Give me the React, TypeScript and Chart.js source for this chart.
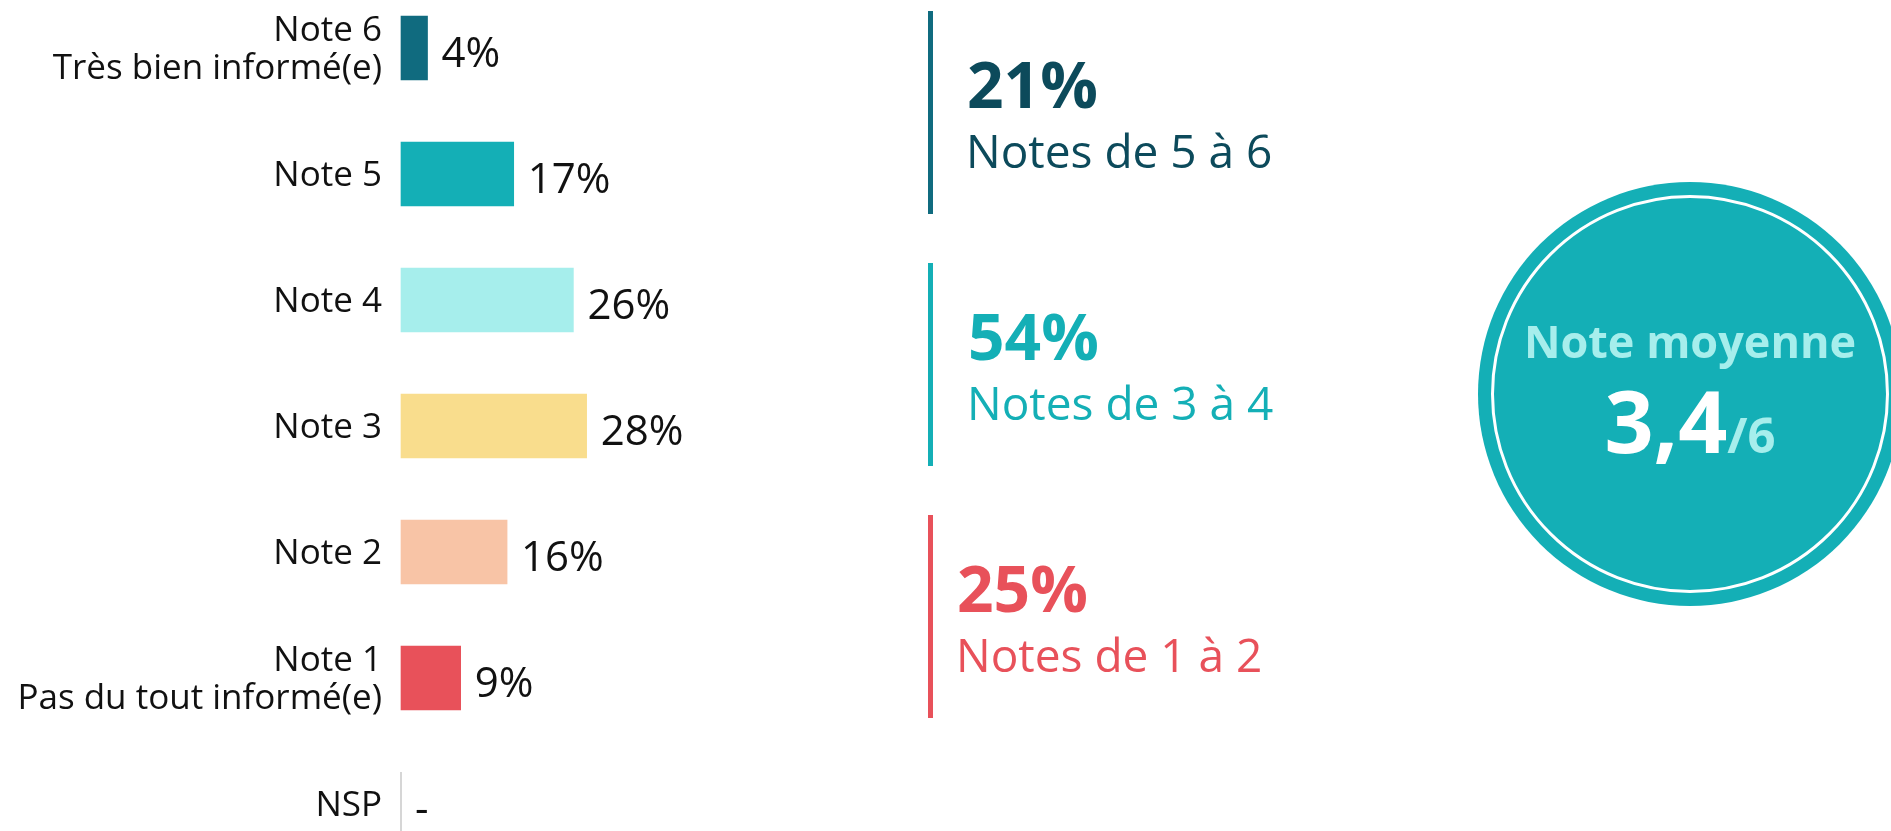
import React, { useEffect, useRef } from "react";
import { Chart, registerables } from "chart.js";

Chart.register(...registerables);

// ---------- data ----------
const categories: (string | string[])[] = [
  ["Note 6", "Très bien informé(e)"],
  "Note 5",
  "Note 4",
  "Note 3",
  "Note 2",
  ["Note 1", "Pas du tout informé(e)"],
  "NSP",
];
const values: (number | null)[] = [4, 17, 26, 28, 16, 9, null];
const barColors = ["#106b7f", "#14afb6", "#a6eeec", "#f9dd8d", "#f8c4a6", "#e8515a", "#c8c8c8"];

const groupValues = [21, 54, 25];
const groupLabels = ["Notes de 5 à 6", "Notes de 3 à 4", "Notes de 1 à 2"];
const groupFirst = [0, 2, 4];
const groupLast = [1, 3, 5];
const groupLineColors = ["#106b7f", "#14afb6", "#e8515a"];
const groupTextColors = ["#0c4a5b", "#14afb6", "#e8515a"];

const meanLabel = "Note moyenne";
const meanScore = 3.4;
const meanMax = 6;

// ---------- layout / style ----------
const W = 1891;
const H = 831;
const FONT = "'Open Sans', sans-serif";
const GROUP_LINE_X = 928;
const GROUP_TEXT_X = [967, 968, 957];
const CIRCLE = { x: 1690, y: 394, r: 212, ring: 197.5 };

export default function App() {
  const ref = useRef<HTMLCanvasElement>(null);

  useEffect(() => {
    let chart: Chart | null = null;
    let cancelled = false;

    const textPlugin = {
      id: "customText",
      afterDatasetsDraw(c: any) {
        const ctx: CanvasRenderingContext2D = c.ctx;
        const xs = c.scales.x;
        const ys = c.scales.y;
        const left = c.chartArea.left;
        ctx.save();

        // zero line for rows without a value (NSP)
        values.forEach((v, i) => {
          if (v != null) return;
          const cy = ys.getPixelForValue(i);
          const x0 = xs.getPixelForValue(0);
          ctx.strokeStyle = "#c8c8c8";
          ctx.lineWidth = 1.5;
          ctx.beginPath();
          ctx.moveTo(x0, cy - 32);
          ctx.lineTo(x0, cy + 32);
          ctx.stroke();
        });

        // category labels
        ctx.fillStyle = "#111111";
        ctx.font = `35px ${FONT}`;
        ctx.textAlign = "right";
        ctx.textBaseline = "alphabetic";
        categories.forEach((cat, i) => {
          const lines = Array.isArray(cat) ? cat : [cat];
          const cy = ys.getPixelForValue(i);
          lines.forEach((ln, k) => {
            const y = cy + 12 + (k - (lines.length - 1) / 2) * 37.5;
            ctx.fillText(ln, left - 19, y);
          });
        });

        // value labels
        ctx.font = `42px ${FONT}`;
        ctx.textAlign = "left";
        values.forEach((v, i) => {
          const cy = ys.getPixelForValue(i);
          const x = xs.getPixelForValue(v ?? 0) + 14;
          ctx.fillText(v == null ? "-" : `${v}%`, x, cy + 18.5);
        });

        // group summaries
        groupValues.forEach((gv, g) => {
          const top = ys.getPixelForValue(groupFirst[g]) - 37;
          const bottom = ys.getPixelForValue(groupLast[g]) + 40;
          const mid = (top + bottom) / 2;
          ctx.fillStyle = groupLineColors[g];
          ctx.fillRect(GROUP_LINE_X, top, 5, bottom - top);
          ctx.fillStyle = groupTextColors[g];
          ctx.textAlign = "left";
          ctx.font = `bold 64px ${FONT}`;
          ctx.fillText(`${gv}%`, GROUP_TEXT_X[g], mid - 5);
          ctx.font = `46px ${FONT}`;
          ctx.fillText(groupLabels[g], GROUP_TEXT_X[g] - 1, mid + 55.5);
        });

        // mean circle
        ctx.fillStyle = "#14afb6";
        ctx.beginPath();
        ctx.arc(CIRCLE.x, CIRCLE.y, CIRCLE.r, 0, Math.PI * 2);
        ctx.fill();
        ctx.strokeStyle = "#ffffff";
        ctx.lineWidth = 3;
        ctx.beginPath();
        ctx.arc(CIRCLE.x, CIRCLE.y, CIRCLE.ring, 0, Math.PI * 2);
        ctx.stroke();

        ctx.textAlign = "center";
        ctx.fillStyle = "#a6eeec";
        ctx.font = `bold 45px ${FONT}`;
        ctx.fillText(meanLabel, CIRCLE.x, CIRCLE.y - 36);

        const big = meanScore.toFixed(1).replace(".", ",");
        const small = `/${meanMax}`;
        ctx.font = `bold 86px ${FONT}`;
        const wBig = ctx.measureText(big).width;
        ctx.font = `bold 49px ${FONT}`;
        const wSmall = ctx.measureText(small).width;
        const startX = CIRCLE.x - (wBig + wSmall) / 2;
        ctx.textAlign = "left";
        ctx.fillStyle = "#ffffff";
        ctx.font = `bold 86px ${FONT}`;
        ctx.fillText(big, startX, CIRCLE.y + 59);
        ctx.fillStyle = "#a6eeec";
        ctx.font = `bold 49px ${FONT}`;
        ctx.fillText(small, startX + wBig, CIRCLE.y + 59);

        ctx.restore();
      },
    };

    const build = () => {
      if (cancelled || !ref.current) return;
      chart = new Chart(ref.current, {
        type: "bar",
        data: {
          labels: categories.map((c) => (Array.isArray(c) ? c.join(" ") : c)),
          datasets: [
            {
              data: values,
              backgroundColor: barColors,
              borderWidth: 0,
              barThickness: 64,
              clip: false,
            } as any,
          ],
        },
        options: {
          indexAxis: "y",
          animation: false,
          responsive: false,
          events: [],
          layout: { padding: { left: 401, right: 827, top: 48, bottom: 27 } },
          plugins: { legend: { display: false }, tooltip: { enabled: false } },
          scales: {
            x: { display: false, min: 0, max: 100 },
            y: { display: false, offset: false },
          },
        },
        plugins: [textPlugin],
      });
    };

    const fontLoads = [
      `35px "Open Sans"`,
      `bold 45px "Open Sans"`,
    ].map((f) => (document as any).fonts?.load?.(f).catch(() => null));
    Promise.all(fontLoads).then(build, build);

    return () => {
      cancelled = true;
      if (chart) chart.destroy();
    };
  }, []);

  return (
    <div style={{ position: "absolute", left: 0, top: 0, width: W, height: H, background: "#ffffff" }}>
      <canvas ref={ref} width={W} height={H} style={{ display: "block", width: W, height: H }} />
    </div>
  );
}
